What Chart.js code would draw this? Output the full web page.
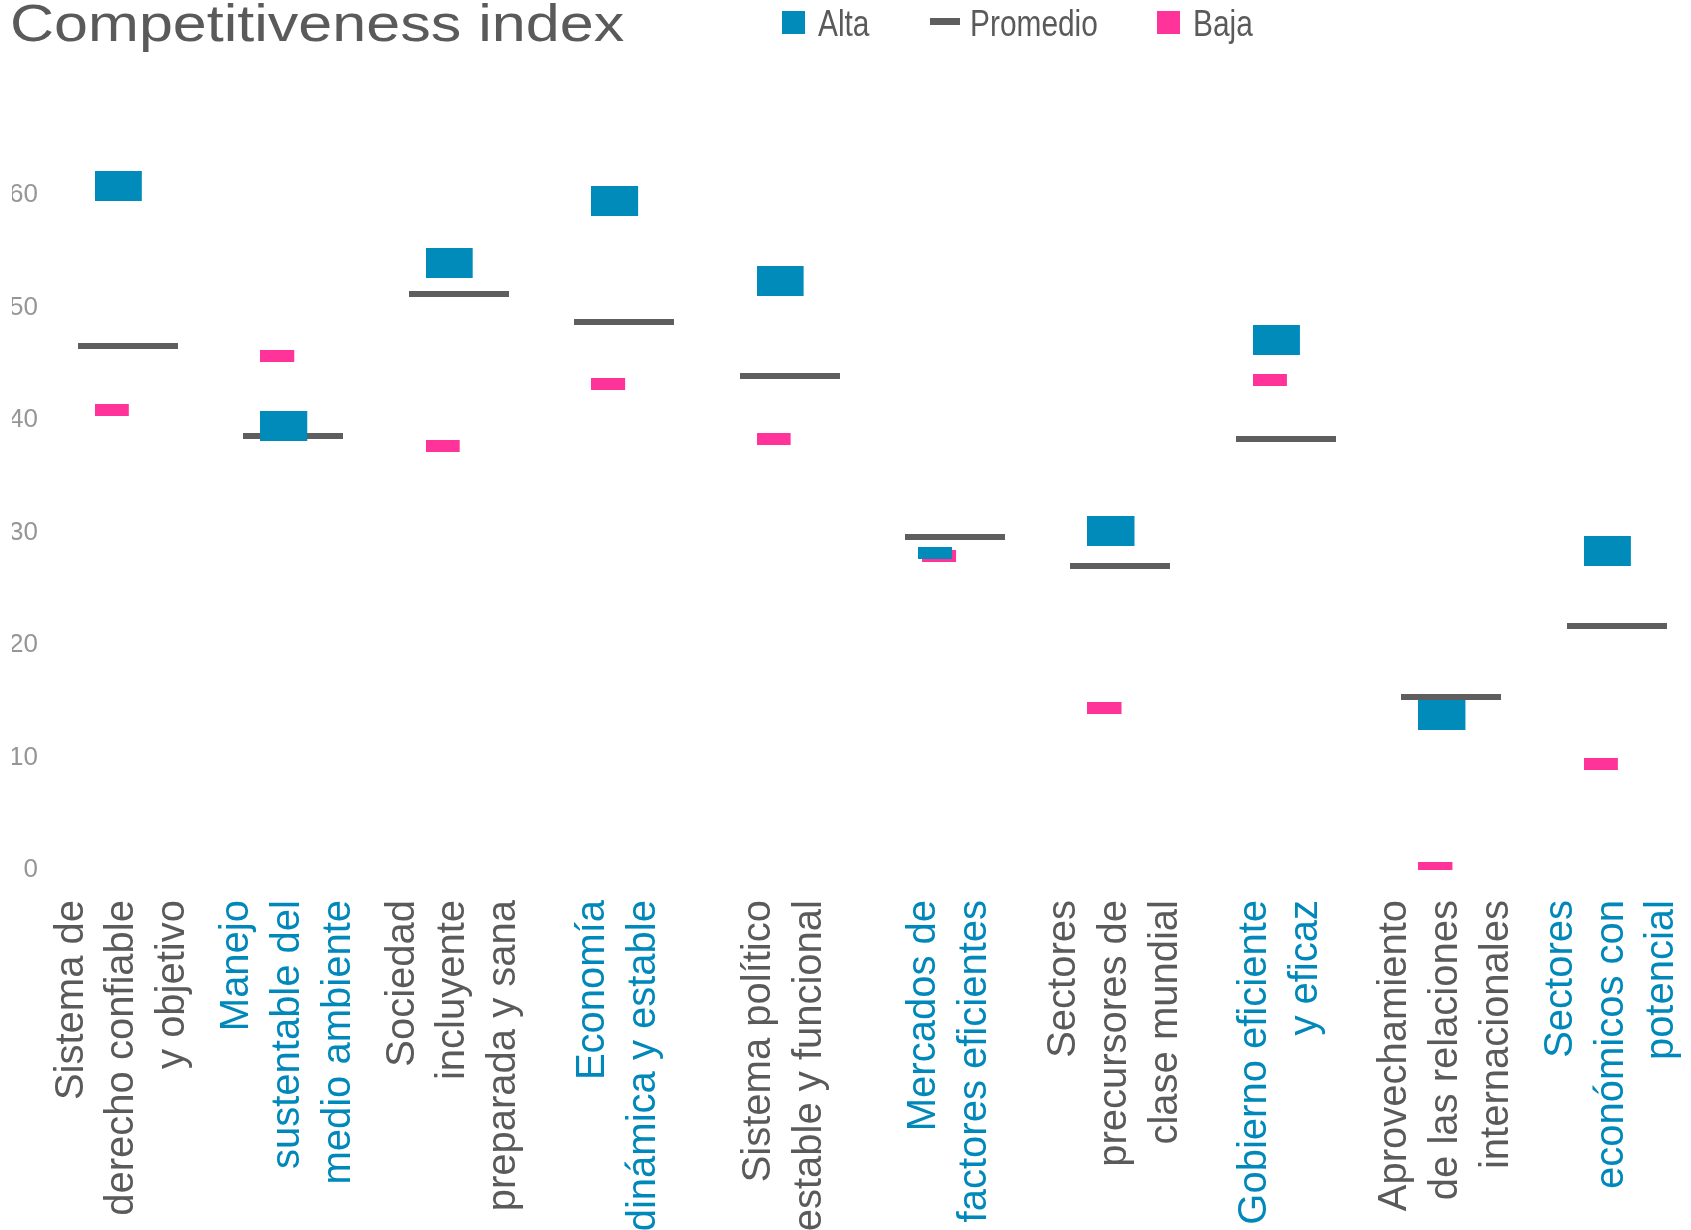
<!DOCTYPE html>
<html>
<head>
<meta charset="utf-8">
<title>Competitiveness index</title>
<script src="https://cdn.jsdelivr.net/npm/chart.js@4.4.1/dist/chart.umd.min.js"></script>
<style>
    html, body { margin: 0; padding: 0; background: #fff; overflow: hidden; }
    #wrap { position: relative; width: 1691px; height: 1230px; }
    #chart { position: absolute; left: 0; top: 0; }
    #title {
        position: absolute; left: 10px; top: -3px;
        font: 52px 'Liberation Sans', Arial, sans-serif; line-height: 52px;
        color: #5a5a5a; white-space: nowrap;
        transform: scaleX(1.174); transform-origin: left top;
    }
    .sw { position: absolute; }
    .lt {
        position: absolute; top: 6px;
        font: 36px 'Liberation Sans', Arial, sans-serif; line-height: 36px;
        color: #5a5a5a; white-space: nowrap;
        transform: scaleX(0.83); transform-origin: left top;
    }
</style>
</head>
<body>
<div id="wrap">
    <canvas id="chart" width="1691" height="1230"></canvas>
    <div id="title">Competitiveness index</div>
    <div class="sw" style="left:782px; top:11px; width:23px; height:23px; background:#008bba;"></div>
    <div class="lt" style="left:818px;">Alta</div>
    <div class="sw" style="left:930px; top:18px; width:30px; height:7px; background:#5e5e5e;"></div>
    <div class="lt" style="left:970px;">Promedio</div>
    <div class="sw" style="left:1157px; top:11px; width:23px; height:23px; background:#ff3399;"></div>
    <div class="lt" style="left:1193px;">Baja</div>
</div>
<script>
(function() {
    'use strict';

    // Categories (x axis labels, already split in lines)
    const categories = [
        ['Sistema de', 'derecho confiable', 'y objetivo'],
        ['Manejo', 'sustentable del', 'medio ambiente'],
        ['Sociedad', 'incluyente', 'preparada y sana'],
        ['Economía', 'dinámica y estable'],
        ['Sistema político', 'estable y funcional'],
        ['Mercados de', 'factores eficientes'],
        ['Sectores', 'precursores de', 'clase mundial'],
        ['Gobierno eficiente', 'y eficaz'],
        ['Aprovechamiento', 'de las relaciones', 'internacionales'],
        ['Sectores', 'económicos con', 'potencial']
    ];

    // Series values
    const alta     = [60.8, 39.5, 54.0, 59.5, 52.4, 28.2, 30.1, 47.1, 13.8, 28.4];
    const promedio = [46.6, 38.6, 51.2, 48.7, 43.9, 29.6, 27.0, 38.3, 15.4, 21.7];
    const baja     = [40.9, 45.7, 37.7, 43.2, 38.3, 27.9, 14.4, 43.6, 0.2, 9.4];

    // Y tick values
    const yTicks = [0, 10, 20, 30, 40, 50, 60];

    // Colors
    const BLUE = '#008bba';
    const PINK = '#ff3399';
    const GREY = '#5e5e5e';
    const TEXT_GREY = '#5a5a5a';
    const TEXT_BLUE = '#0088bb';

    // Label layout (px): line height of the rotated labels, one category step
    const LABEL_SIZE = 40;
    const LABEL_LINE = 1.27;
    const STEP_PX = 166.06;

    // Marker: box drawn inside a wider canvas so it sits left of the point
    function makeMarker(color, spanW, boxLeft, boxW, boxH) {
        const c = document.createElement('canvas');
        c.width = spanW;
        c.height = boxH;
        const g = c.getContext('2d');
        g.fillStyle = color;
        g.fillRect(boxLeft, 0, boxW, boxH);
        return c;
    }

    const altaBig = makeMarker(BLUE, 66, 0, 47, 30);
    const altaSmall = makeMarker(BLUE, 74, 0, 34, 12);
    const bajaBox = makeMarker(PINK, 66, 0, 34, 12);
    const promLine = makeMarker(GREY, 100, 0, 100, 6);

    const toPoints = arr => arr.map((v, i) => ({ x: i, y: v }));

    // Shift each rotated multi-line label so the block is centred under its markers
    function labelTickValue(lines, i) {
        const lh = LABEL_SIZE * LABEL_LINE;
        return i - (5.5 + (lines.length - 1) * lh / 2) / STEP_PX;
    }

    new Chart(document.getElementById('chart'), {
        type: 'scatter',
        data: {
            datasets: [
                {
                    label: 'Alta',
                    data: toPoints(alta),
                    pointStyle: alta.map((v, i) => i === 5 ? altaSmall : altaBig),
                    pointRadius: 5
                },
                {
                    label: 'Promedio',
                    data: toPoints(promedio),
                    pointStyle: promLine,
                    pointRadius: 5
                },
                {
                    label: 'Baja',
                    data: toPoints(baja),
                    pointStyle: bajaBox,
                    pointRadius: 5
                }
            ]
        },
        options: {
            responsive: false,
            animation: false,
            events: [],
            layout: {
                padding: { top: 82.5, left: 12, right: 0, bottom: 0 }
            },
            plugins: {
                legend: { display: false },
                tooltip: { enabled: false }
            },
            scales: {
                x: {
                    type: 'linear',
                    min: -0.47,
                    max: 9.412,
                    grid: { display: false, drawTicks: false },
                    border: { display: false },
                    afterBuildTicks: axis => {
                        axis.ticks = categories.map((c, i) => ({ value: labelTickValue(c, i) }));
                    },
                    afterFit: axis => {
                        axis.height = 360;
                        axis.paddingLeft = 0;
                        axis.paddingRight = 0;
                    },
                    ticks: {
                        autoSkip: false,
                        minRotation: 90,
                        maxRotation: 90,
                        padding: 30,
                        font: { family: "'Liberation Sans', Arial, sans-serif", size: LABEL_SIZE, lineHeight: LABEL_LINE },
                        color: ctx => ctx.index % 2 ? TEXT_BLUE : TEXT_GREY,
                        callback: (v, idx) => categories[idx]
                    }
                },
                y: {
                    min: 0,
                    max: 70,
                    grid: { display: false, drawTicks: false },
                    border: { display: false },
                    afterBuildTicks: axis => {
                        axis.ticks = yTicks.map(v => ({ value: v }));
                    },
                    afterFit: axis => {
                        axis.width = 38;
                    },
                    ticks: {
                        padding: 12,
                        font: { family: "'Liberation Sans', Arial, sans-serif", size: 26 },
                        color: '#969696'
                    }
                }
            }
        }
    });
})();
</script>
</body>
</html>
